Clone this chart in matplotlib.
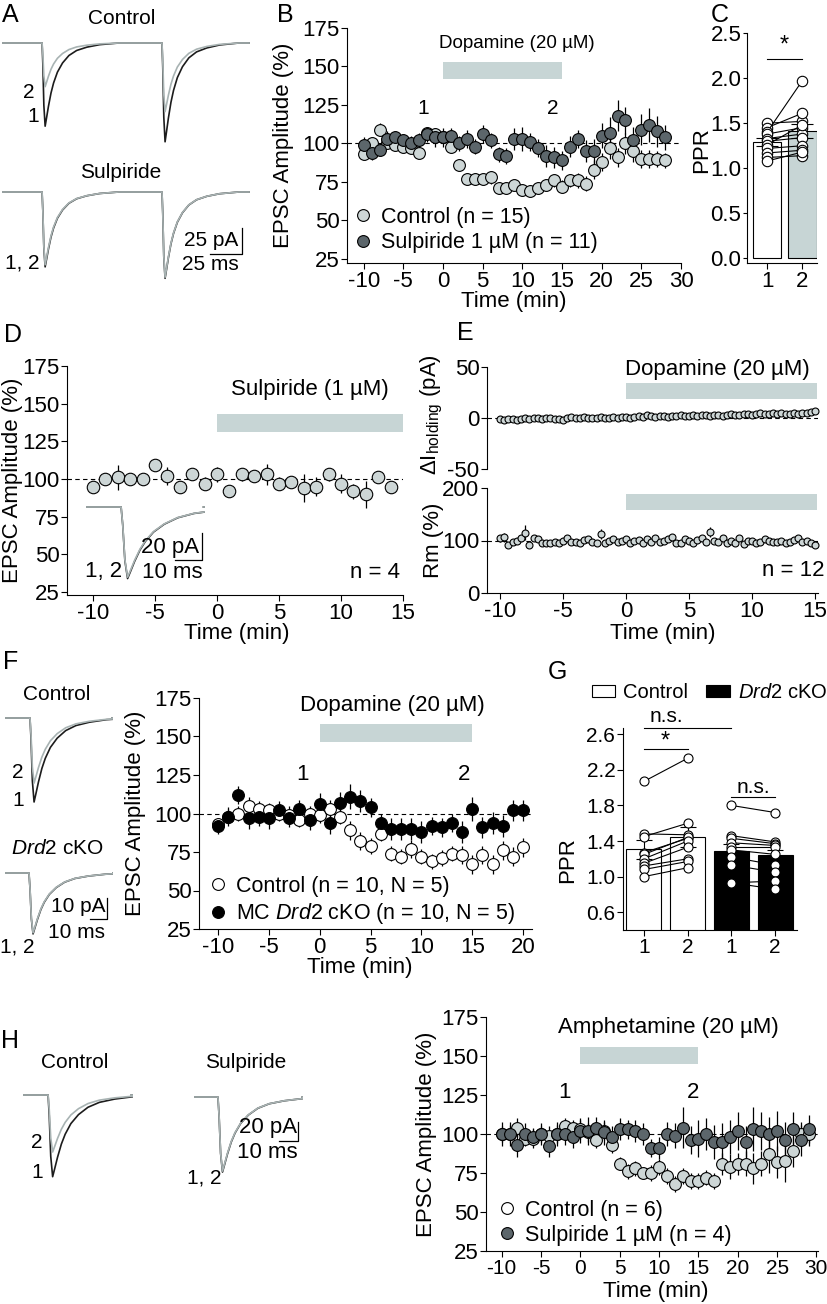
import numpy as np
import matplotlib
matplotlib.use('Agg')
import matplotlib.pyplot as plt
from matplotlib.lines import Line2D
from matplotlib.patches import Patch
from matplotlib.ticker import FormatStrFormatter

plt.rcParams['font.family'] = ['Liberation Sans', 'DejaVu Sans']
plt.rcParams['font.size'] = 16
plt.rcParams['mathtext.fontset'] = 'custom'
plt.rcParams['mathtext.rm'] = 'Liberation Sans'
plt.rcParams['mathtext.it'] = 'Liberation Sans:italic'
plt.rcParams['axes.linewidth'] = 0.8
plt.rcParams['axes.unicode_minus'] = False

# ---------------- data ----------------
b_time = np.arange(-10, 29)
b_ctrl = [93, 100, 109, 100, 99, 98, 97, 94, 107, 106, 104, 98, 86, 77, 77, 77, 78, 71, 71, 73,
          70, 69, 71, 73, 76, 72, 76, 76, 74, 83, 88, 97, 91, 100, 95, 90, 90, 90, 89]
b_ctrl_err = [3, 4, 4, 3, 4, 3, 3, 3, 4, 4, 3, 4, 4, 4, 4, 3, 4, 4, 4, 3,
              4, 4, 4, 3, 4, 4, 4, 5, 5, 6, 6, 7, 6, 7, 7, 6, 6, 5, 5]
b_sulp = [99, 94, 96, 103, 104, 102, 100, 102, 106, 104, 104, 105, 100, 103, 98, 106, 102, 93, 92, 103,
          103, 101, 97, 92, 91, 89, 98, 103, 95, 95, 105, 107, 118, 115, 102, 109, 112, 108, 104]
b_sulp_err = [5, 5, 4, 5, 4, 4, 5, 5, 5, 6, 6, 5, 5, 6, 5, 6, 5, 5, 5, 7,
              8, 6, 6, 7, 7, 6, 7, 6, 7, 8, 8, 10, 10, 9, 9, 10, 11, 10, 8]

c_ppr1 = [1.50, 1.45, 1.40, 1.38, 1.33, 1.30, 1.26, 1.22, 1.17, 1.12, 1.08]
c_ppr2 = [1.52, 1.61, 1.97, 1.45, 1.38, 1.34, 1.48, 1.25, 1.20, 1.14, 1.18]
c_sem = [0.04, 0.08]

d_time = np.arange(-10, 15)
d_vals = [95, 100, 101, 100, 100, 109, 102, 95, 103, 97, 103, 92, 103, 102, 103, 97, 98, 94, 95, 103,
          97, 92, 90, 101, 95]
d_err = [3, 4, 8, 3, 3, 3, 6, 4, 3, 4, 5, 4, 4, 4, 7, 4, 3, 9, 6, 4, 6, 5, 9, 3, 4]

e_time = np.arange(76) / 3 - 10
e_hold = [-1, -2, -1, -1, -2, -1, 0, -1, 0, 0,
          -1, 0, 0, -1, -1, -2, 0, 1, 0, 0,
          1, 0, 0, 0, 1, 0, 0, 1, 0, 1,
          1, 0, 1, 2, 1, 3, 2, 1, 2, 2,
          1, 2, 2, 3, 2, 2, 3, 2, 3, 3,
          2, 3, 3, 2, 3, 4, 3, 3, 4, 4,
          3, 4, 5, 4, 4, 5, 4, 5, 4, 4,
          5, 4, 5, 5, 6, 7]
e_hold_err = [1, 1, 1, 2, 1, 1, 1, 2, 1, 1, 1, 1, 2, 1, 1, 1, 1, 1, 2, 1,
              1, 1, 1, 1, 2, 1, 1, 1, 1, 1, 2, 1, 1, 1, 1, 2, 1, 1, 1, 1,
              1, 2, 1, 1, 1, 1, 1, 2, 1, 1, 1, 1, 2, 1, 1, 1, 1, 1, 2, 1,
              1, 1, 1, 2, 1, 1, 1, 1, 1, 2, 1, 1, 1, 2, 1, 2]
e_rm = [104, 106, 92, 97, 100, 104, 115, 92, 105, 103,
        96, 95, 96, 97, 96, 100, 104, 98, 97, 96,
        101, 103, 97, 96, 112, 95, 99, 103, 97, 99,
        103, 96, 100, 101, 95, 102, 98, 105, 97, 100,
        102, 106, 95, 96, 102, 99, 96, 101, 104, 98,
        116, 100, 98, 104, 96, 100, 95, 105, 93, 100,
        99, 96, 98, 103, 100, 97, 97, 99, 96, 97,
        101, 104, 97, 99, 96, 92]
e_rm_err = [6, 8, 4, 3, 5, 4, 14, 4, 5, 4, 3, 3, 3, 4, 3, 4, 5, 3, 3, 3,
            4, 5, 3, 3, 9, 3, 4, 5, 3, 4, 5, 3, 4, 4, 3, 4, 3, 5, 3, 4,
            4, 6, 3, 3, 4, 3, 3, 4, 5, 3, 10, 4, 3, 5, 3, 4, 3, 6, 3, 4,
            4, 3, 3, 5, 4, 3, 3, 4, 3, 3, 4, 5, 3, 4, 3, 4]

f_time = np.arange(-10, 21)
f_ctrl = [93, 98, 100, 105, 103, 102, 100, 99, 96, 100, 99, 103, 98, 89, 82, 79, 87, 74, 72, 77,
          72, 69, 71, 74, 73, 67, 73, 67, 76, 72, 78]
f_ctrl_err = [4, 5, 5, 6, 5, 5, 5, 6, 5, 5, 5, 6, 5, 6, 6, 5, 5, 5, 5, 6,
              5, 5, 5, 5, 6, 6, 6, 6, 6, 6, 6]
f_cko = [92, 98, 112, 97, 98, 97, 102, 97, 103, 96, 106, 94, 107, 111, 108, 104, 94, 90, 90, 90,
         88, 92, 91, 94, 88, 103, 91, 94, 92, 102, 102]
f_cko_err = [5, 6, 6, 7, 6, 7, 6, 6, 6, 7, 7, 7, 7, 8, 7, 6, 6, 7, 7, 7,
             7, 6, 6, 6, 7, 8, 7, 7, 7, 7, 7]

g_ctrl1 = [2.07, 1.48, 1.45, 1.27, 1.25, 1.20, 1.15, 1.12, 1.08, 1.00]
g_ctrl2 = [2.33, 1.47, 1.60, 1.43, 1.44, 1.40, 1.33, 1.20, 1.17, 1.10]
g_cko1 = [1.80, 1.46, 1.43, 1.38, 1.33, 1.30, 1.22, 1.13, 0.93, 0.93]
g_cko2 = [1.72, 1.39, 1.37, 1.35, 1.33, 1.25, 1.13, 1.05, 0.95, 0.86]
g_sem = [0.11, 0.11, 0.08, 0.06]

h_time = np.arange(-10, 30)
h_ctrl = [100, 100, 104, 97, 97, 100, 99, 100, 105, 104, 103, 101, 96, 102, 93, 81, 76, 78, 75, 75,
          79, 73, 68, 73, 70, 70, 72, 70, 81, 79, 81, 81, 78, 81, 87, 82, 83, 89, 100, 100]
h_ctrl_err = [5, 6, 6, 5, 6, 5, 6, 6, 5, 5, 6, 6, 5, 6, 5, 4, 5, 5, 4, 5,
              5, 5, 5, 5, 5, 5, 5, 5, 7, 8, 7, 8, 10, 8, 12, 10, 14, 10, 8, 8]
h_sulp = [100, 100, 93, 100, 98, 100, 92, 100, 100, 98, 102, 102, 104, 101, 98, 103, 103, 102, 100, 91,
          91, 100, 99, 104, 96, 97, 100, 95, 95, 98, 102, 95, 103, 102, 100, 102, 96, 103, 96, 103]
h_sulp_err = [8, 8, 8, 7, 6, 7, 7, 8, 7, 7, 8, 9, 7, 8, 7, 7, 6, 7, 7, 6,
              7, 8, 8, 13, 9, 12, 10, 11, 12, 11, 12, 10, 14, 12, 11, 13, 12, 11, 10, 9]

# EPSC waveform (time after onset in ms, fraction of peak)
epsc_t = [0, 0.6, 1.4, 2.4, 3.5, 5, 7, 9, 12, 16, 21, 27, 35, 45, 60]
epsc_f = [0, 0.25, 0.75, 1.0, 0.9, 0.76, 0.6, 0.48, 0.35, 0.24, 0.15, 0.09, 0.05, 0.02, 0.0]

# ---------------- styling ----------------
LIGHT = '#cdd6d6'
DARK = '#5c666b'
BAR = '#c7d5d5'
TR_BLACK = '#1c1c1c'
TR_GRAY = '#a8b3b3'
LEG = 15.5
ANN = 15

W, H = 828, 1304
fig = plt.figure(figsize=(W / 100, H / 100), dpi=100)


def px_axes(x0, y0, x1, y1):
    return fig.add_axes([x0 / W, 1 - y1 / H, (x1 - x0) / W, (y1 - y0) / H])


def px_text(x, y, s, **kw):
    kw.setdefault('ha', 'center')
    kw.setdefault('va', 'center')
    fig.text(x / W, 1 - y / H, s, **kw)


def style(ax, size=16):
    ax.spines['top'].set_visible(False)
    ax.spines['right'].set_visible(False)
    ax.tick_params(direction='out', length=4, width=0.8, pad=1.5, labelsize=size)


def time_course(ax, t, vals, err, face, ms=8.5, label=None):
    ax.errorbar(t, vals, yerr=err, fmt='o', ms=ms, mfc=face, mec='black', mew=0.8,
                ecolor='black', elinewidth=0.9, capsize=0, label=label, zorder=3, clip_on=False)


def drug_bar(ax, t0, t1, lo, hi):
    ax.fill_between([t0, t1], [lo, lo], [hi, hi], color=BAR, lw=0, clip_on=False)


def dashed(ax, y):
    ax.axhline(y, color='black', lw=0.8, ls=(0, (4, 3)), zorder=1)


def trace_axes(x0, x1, y_top, y_bot, y_base, px_ms, px_pA):
    ax = px_axes(x0, y_top, x1, y_bot)
    ax.set_xlim(0, (x1 - x0) / px_ms)
    ax.set_ylim(-(y_bot - y_base) / px_pA, (y_base - y_top) / px_pA)
    ax.axis('off')
    return ax


def epsc_trace(onsets, amps, t_end):
    t = [0.0]
    y = [0.0]
    for on, amp in zip(onsets, amps):
        for dt, f in zip(epsc_t, epsc_f):
            t.append(on + dt)
            y.append(-amp * f)
    t.append(t_end)
    y.append(0.0)
    return t, y


def draw_pair(ax, onsets, amp_black, amp_gray, t_end):
    t, y = epsc_trace(onsets, amp_black, t_end)
    ax.plot(t, y, color=TR_BLACK, lw=1.2)
    t, y = epsc_trace(onsets, amp_gray, t_end)
    ax.plot(t, y, color=TR_GRAY, lw=1.2)


def scale_bar(ax, x_end, y_low, ms, pA):
    ax.plot([x_end - ms, x_end, x_end], [y_low, y_low, y_low + pA], color='black', lw=0.9)


# ---------------- A: traces ----------------
ax = trace_axes(2, 250, 30, 150, 43, 1.28, 1.04)
draw_pair(ax, [31.3, 125], [80, 95], [42, 66], 193)
ax = trace_axes(2, 250, 180, 290, 192, 1.28, 1.04)
draw_pair(ax, [31.3, 125], [72, 83], [70, 82], 193)
scale_bar(ax, 187.5, -59.6, 25, 25)
px_text(122, 18, 'Control', fontsize=ANN)
px_text(121, 172, 'Sulpiride', fontsize=ANN)
px_text(29, 92, '2', fontsize=ANN)
px_text(33, 116, '1', fontsize=ANN)
px_text(22, 263, '1, 2', fontsize=ANN)
px_text(211, 240, '25 pA', fontsize=ANN)
px_text(210, 265, '25 ms', fontsize=ANN)

# ---------------- B ----------------
ax = px_axes(347, 28, 681, 263)
style(ax)
ax.set_xlim(-12.1, 30)
ax.set_ylim(22.4, 175)
ax.set_yticks([25, 50, 75, 100, 125, 150, 175])
ax.set_xticks([-10, -5, 0, 5, 10, 15, 20, 25, 30])
dashed(ax, 100)
drug_bar(ax, 0, 15, 141.7, 152.7)
time_course(ax, b_time, b_ctrl, b_ctrl_err, LIGHT)
time_course(ax, b_time, b_sulp, b_sulp_err, DARK)
hb = [Line2D([], [], ls='', marker='o', ms=8.5, mfc=LIGHT, mec='k', mew=0.8),
      Line2D([], [], ls='', marker='o', ms=8.5, mfc=DARK, mec='k', mew=0.8)]
ax.legend(hb, ['Control (n = 15)', 'Sulpiride 1 µM (n = 11)'], loc='upper left',
          bbox_to_anchor=(0.017, 0.24), frameon=False, handlelength=1, handletextpad=0.3,
          borderpad=0, borderaxespad=0, labelspacing=0.22, fontsize=LEG)
px_text(517, 43, 'Dopamine (20 µM)', fontsize=13.5)
px_text(423, 108, '1', fontsize=ANN)
px_text(553, 108, '2', fontsize=ANN)
px_text(283, 145, 'EPSC Amplitude (%)', rotation=90)
px_text(514, 302, 'Time (min)')

# ---------------- C ----------------
ax = px_axes(747, 33, 817, 263)
style(ax)
ax.tick_params(axis='y', length=3, pad=1)
ax.set_xlim(0.43, 2.42)
ax.set_ylim(-0.05, 2.5)
ax.set_yticks([0, 0.5, 1.0, 1.5, 2.0, 2.5])
ax.yaxis.set_major_formatter(FormatStrFormatter('%.1f'))
ax.set_xticks([1, 2])
ax.bar([1, 2], [np.mean(c_ppr1), np.mean(c_ppr2)], width=0.82, color=['white', BAR],
       edgecolor='black', lw=0.8, yerr=c_sem, capsize=8,
       error_kw=dict(elinewidth=0.8, capthick=0.8), zorder=2)
for a, b in zip(c_ppr1, c_ppr2):
    ax.plot([1, 2], [a, b], '-o', color='black', lw=0.8, ms=7.5, mfc='white', mec='black',
            mew=0.8, zorder=3, clip_on=False)
ax.plot([1, 2], [2.21, 2.21], color='black', lw=0.8)
ax.text(1.5, 2.36, '*', ha='center', va='center', fontsize=17)
px_text(702, 150, 'PPR', rotation=90)

# ---------------- D ----------------
ax = px_axes(67, 366, 403, 595)
style(ax)
ax.set_xlim(-12.1, 15)
ax.set_ylim(23, 175)
ax.set_yticks([25, 50, 75, 100, 125, 150, 175])
ax.set_xticks([-10, -5, 0, 5, 10, 15])
dashed(ax, 100)
drug_bar(ax, 0, 15, 131.2, 143.2)
time_course(ax, d_time, d_vals, d_err, LIGHT, ms=9)
px_text(310, 390, 'Sulpiride (1 µM)')
px_text(375, 572, 'n = 4')
px_text(13, 480, 'EPSC Amplitude (%)', rotation=90)
px_text(237, 633, 'Time (min)')
ax = trace_axes(86, 205, 500, 590, 507, 2.7, 1.35)
draw_pair(ax, [13], [53], [52], 43.5)
scale_bar(ax, 43.1, -39.3, 10, 20)
px_text(170, 547, '20 pA', fontsize=ANN + 1)
px_text(172, 572, '10 ms', fontsize=ANN + 1)
px_text(104, 572, '1, 2', fontsize=ANN + 1)

# ---------------- E ----------------
ax = px_axes(487, 367, 818, 469)
style(ax)
ax.spines['bottom'].set_visible(False)
ax.set_xlim(-11.03, 15.24)
ax.set_ylim(-50, 50)
ax.set_yticks([-50, 0, 50])
ax.set_xticks([])
dashed(ax, 0)
drug_bar(ax, 0, 15.2, 18.6, 34.3)
time_course(ax, e_time, e_hold, e_hold_err, LIGHT, ms=5)
px_text(717, 369, 'Dopamine (20 µM)')
px_text(432, 415, 'ΔI$_{\\mathrm{holding}}$ (pA)', rotation=90)

ax = px_axes(487, 488, 818, 593)
style(ax)
ax.set_xlim(-11.03, 15.24)
ax.set_ylim(0, 200)
ax.set_yticks([0, 100, 200])
ax.set_xticks([-10, -5, 0, 5, 10, 15])
dashed(ax, 100)
drug_bar(ax, 0, 15.2, 158, 188.6)
time_course(ax, e_time, e_rm, e_rm_err, LIGHT, ms=5)
px_text(793, 570, 'n = 12')
px_text(434, 540, 'Rm (%)', rotation=90)
px_text(663, 633, 'Time (min)')

# ---------------- F ----------------
ax = trace_axes(5, 113, 705, 810, 718, 1.7, 2.1)
draw_pair(ax, [14.7], [40], [31], 63)
ax = trace_axes(5, 113, 860, 940, 873, 1.7, 2.1)
draw_pair(ax, [14.1], [29], [28.5], 63.5)
scale_bar(ax, 60, -21.9, 10, 10)
px_text(57, 695, 'Control', fontsize=ANN)
px_text(18, 772, '2', fontsize=ANN)
px_text(18, 800, '1', fontsize=ANN)
px_text(57, 849, '$\\mathit{Drd}$2 cKO', fontsize=ANN)
px_text(78, 906, '10 pA', fontsize=ANN)
px_text(77, 932, '10 ms', fontsize=ANN)
px_text(17, 947, '1, 2', fontsize=ANN)

ax = px_axes(199, 698, 532, 929)
style(ax)
ax.set_xlim(-11.87, 20.88)
ax.set_ylim(25, 175)
ax.set_yticks([25, 50, 75, 100, 125, 150, 175])
ax.set_xticks([-10, -5, 0, 5, 10, 15, 20])
dashed(ax, 100)
drug_bar(ax, 0, 15, 146.4, 158.1)
time_course(ax, f_time, f_ctrl, f_ctrl_err, 'white')
time_course(ax, f_time, f_cko, f_cko_err, 'black')
hf = [Line2D([], [], ls='', marker='o', ms=8.5, mfc='white', mec='k', mew=0.8),
      Line2D([], [], ls='', marker='o', ms=8.5, mfc='black', mec='k', mew=0.8)]
ax.legend(hf, ['Control (n = 10, N = 5)', 'MC $\\mathit{Drd}$2 cKO (n = 10, N = 5)'],
          loc='upper left', bbox_to_anchor=(0.026, 0.23), frameon=False, handlelength=1,
          handletextpad=0.3, borderpad=0, borderaxespad=0, labelspacing=0.2, fontsize=LEG)
px_text(392, 706, 'Dopamine (20 µM)')
px_text(303, 775, '1')
px_text(464, 775, '2')
px_text(136, 813, 'EPSC Amplitude (%)', rotation=90)
px_text(360, 968, 'Time (min)')

# ---------------- G ----------------
ax = px_axes(623, 728, 797, 930)
style(ax, size=15)
ax.set_xlim(0.52, 4.5)
ax.set_ylim(0.4, 2.67)
ax.set_yticks([0.6, 1.0, 1.4, 1.8, 2.2, 2.6])
ax.yaxis.set_major_formatter(FormatStrFormatter('%.1f'))
ax.set_xticks([1, 2, 3, 4])
ax.set_xticklabels(['1', '2', '1', '2'])
ax.bar([1, 2, 3, 4], [np.mean(g_ctrl1), np.mean(g_ctrl2), np.mean(g_cko1), np.mean(g_cko2)],
       width=0.8, color=['white', 'white', 'black', 'black'], edgecolor='black', lw=0.8,
       yerr=g_sem, capsize=6, error_kw=dict(elinewidth=0.8, capthick=0.8, ecolor='black'), zorder=2)
for a, b in zip(g_ctrl1, g_ctrl2):
    ax.plot([1, 2], [a, b], '-o', color='black', lw=0.8, ms=6.5, mfc='white', mec='black',
            mew=0.8, zorder=3)
for a, b in zip(g_cko1, g_cko2):
    ax.plot([3, 4], [a, b], '-o', color='black', lw=0.8, ms=6.5, mfc='white', mec='black',
            mew=0.8, zorder=3)
ax.plot([1, 3], [2.67, 2.67], color='black', lw=0.8, clip_on=False)
ax.plot([1, 2], [2.43, 2.43], color='black', lw=0.8, clip_on=False)
ax.plot([3, 4], [1.89, 1.89], color='black', lw=0.8, clip_on=False)
px_text(666, 717, 'n.s.', fontsize=ANN)
px_text(665, 742, '*', fontsize=17)
px_text(753, 788, 'n.s.', fontsize=ANN)
px_text(568, 860, 'PPR', rotation=90)
fig.legend([Patch(fc='white', ec='black', lw=0.8), Patch(fc='black', ec='black', lw=0.8)],
           ['Control', '$\\mathit{Drd}$2 cKO'], loc='center left',
           bbox_to_anchor=(582 / W, 1 - 693 / H), ncol=2, frameon=False, handlelength=1.15,
           handleheight=0.55, handletextpad=0.4, columnspacing=0.9, borderpad=0, fontsize=14.5)

# ---------------- H ----------------
ax = trace_axes(23, 133, 1085, 1185, 1095, 1.9, 0.95)
draw_pair(ax, [13.2], [86], [60], 57)
ax = trace_axes(194, 303, 1085, 1185, 1097, 1.9, 0.95)
draw_pair(ax, [12.6], [79], [78], 57)
scale_bar(ax, 54.7, -46.3, 10, 20)
px_text(75, 1062, 'Control', fontsize=ANN)
px_text(37, 1143, '2', fontsize=ANN)
px_text(37, 1172, '1', fontsize=ANN)
px_text(246, 1063, 'Sulpiride', fontsize=ANN)
px_text(268, 1127, '20 pA', fontsize=ANN + 1)
px_text(267, 1152, '10 ms', fontsize=ANN + 1)
px_text(204, 1178, '1, 2', fontsize=ANN)

ax = px_axes(486, 1017, 818, 1251)
style(ax)
ax.tick_params(axis='x', labelsize=15)
ax.set_xlim(-12.0, 30.2)
ax.set_ylim(25, 175)
ax.set_yticks([25, 50, 75, 100, 125, 150, 175])
ax.set_xticks([-10, -5, 0, 5, 10, 15, 20, 25, 30])
dashed(ax, 100)
drug_bar(ax, 0, 15, 144.9, 155.8)
time_course(ax, h_time, h_ctrl, h_ctrl_err, LIGHT)
time_course(ax, h_time, h_sulp, h_sulp_err, DARK)
hh = [Line2D([], [], ls='', marker='o', ms=8.5, mfc='white', mec='k', mew=0.8),
      Line2D([], [], ls='', marker='o', ms=8.5, mfc=DARK, mec='k', mew=0.8)]
ax.legend(hh, ['Control (n = 6)', 'Sulpiride 1 µM (n = 4)'], loc='upper left',
          bbox_to_anchor=(0.032, 0.22), frameon=False, handlelength=1, handletextpad=0.3,
          borderpad=0, borderaxespad=0, labelspacing=0.2, fontsize=LEG)
px_text(668, 1028, 'Amphetamine (20 µM)')
px_text(564, 1093, '1')
px_text(693, 1093, '2')
px_text(427, 1134, 'EPSC Amplitude (%)', rotation=90)
px_text(656, 1291, 'Time (min)')

# ---------------- panel letters ----------------
for letter, x, y in [('A', 10, 15), ('B', 285, 15), ('C', 720, 15), ('D', 13, 335),
                     ('E', 465, 333), ('F', 11, 662), ('G', 557, 672), ('H', 10, 1041)]:
    px_text(x, y, letter, fontsize=18)

fig.savefig('out.png', dpi=100)
